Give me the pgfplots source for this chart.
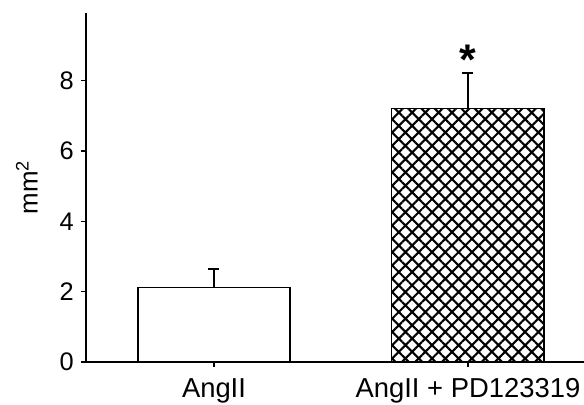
\documentclass[border=0pt]{standalone}
\usepackage{fontspec}
\setmainfont{Liberation Sans}
\usepackage{pgfplots}
\pgfplotsset{compat=1.18}
\usetikzlibrary{patterns.meta}
\begin{document}
\begin{tikzpicture}
\useasboundingbox (-86bp,-43bp) rectangle (498bp,362bp);
\begin{axis}[
  at={(0,0)}, anchor=south west,
  scale only axis,
  width=498bp, height=349.3bp,
  xmin=-0.504, xmax=1.457,
  ymin=0, ymax=9.93,
  axis lines=left,
  axis line style={-, line width=1.3bp},
  tick style={line width=1.3bp, black},
  major tick length=5bp,
  tick align=outside,
  xtick={0,1},
  xticklabels={AngII, AngII + PD123319},
  ytick={0,2,4,6,8},
  /pgf/number format/assume math mode=true,
  xticklabel style={font=\fontsize{27.5}{32}\selectfont, inner sep=0pt, anchor=north, yshift=-11bp},
  yticklabel style={font=\fontsize{25.5}{29}\selectfont, inner sep=0pt, anchor=east, xshift=-7bp},
  ylabel={mm\textsuperscript{2}},
  ylabel style={font=\fontsize{26}{29}\selectfont, inner sep=0pt, at={(axis description cs:-0.097,0.5)}, anchor=base, rotate=0},
  clip=false,
]
\addplot[ybar, bar width=0.6, draw=black, line width=1.4bp, fill=white,
  error bars/.cd, y dir=plus, y explicit,
  error bar style={line width=1.5bp, black},
  error mark options={rotate=90, mark size=5.5bp, line width=1.5bp, black}]
  coordinates {(0,2.11) +- (0,0.53)};
\addplot[ybar, bar width=0.6, draw=black, line width=1.4bp,
  pattern={Hatch[angle=45, distance=9.4bp, line width=2.1bp]}, pattern color=black,
  error bars/.cd, y dir=plus, y explicit,
  error bar style={line width=1.5bp, black},
  error mark options={rotate=90, mark size=5.5bp, line width=1.5bp, black}]
  coordinates {(1,7.21) +- (0,1.01)};
\node[font=\fontsize{43}{43}\selectfont\bfseries, inner sep=0pt, anchor=center] at (axis cs:1,8.58) {*};
\end{axis}
\end{tikzpicture}
\end{document}
